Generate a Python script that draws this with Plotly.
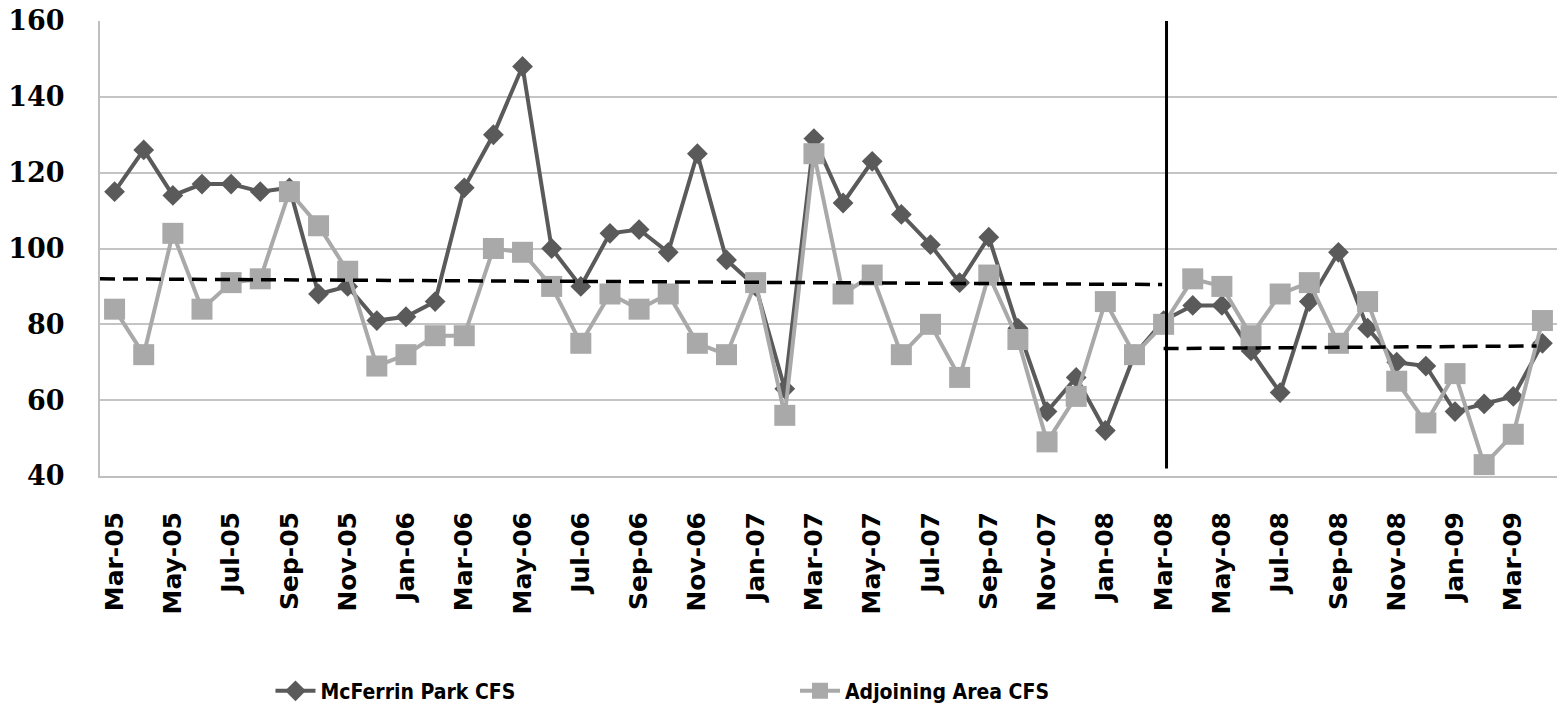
import plotly.graph_objects as go

# Monthly calls for service, Mar-05 .. Apr-09
months = [
    "Mar-05", "Apr-05", "May-05", "Jun-05", "Jul-05", "Aug-05", "Sep-05", "Oct-05", "Nov-05", "Dec-05",
    "Jan-06", "Feb-06", "Mar-06", "Apr-06", "May-06", "Jun-06", "Jul-06", "Aug-06", "Sep-06", "Oct-06",
    "Nov-06", "Dec-06", "Jan-07", "Feb-07", "Mar-07", "Apr-07", "May-07", "Jun-07", "Jul-07", "Aug-07",
    "Sep-07", "Oct-07", "Nov-07", "Dec-07", "Jan-08", "Feb-08", "Mar-08", "Apr-08", "May-08", "Jun-08",
    "Jul-08", "Aug-08", "Sep-08", "Oct-08", "Nov-08", "Dec-08", "Jan-09", "Feb-09", "Mar-09", "Apr-09",
]

mcferrin_cfs = [
    115, 126, 114, 117, 117, 115, 116, 88, 90, 81,
    82, 86, 116, 130, 148, 100, 90, 104, 105, 99,
    125, 97, 90, 63, 129, 112, 123, 109, 101, 91,
    103, 79, 57, 66, 52, 72, 81, 85, 85, 73,
    62, 86, 99, 79, 70, 69, 57, 59, 61, 75,
]

adjoining_cfs = [
    84, 72, 104, 84, 91, 92, 115, 106, 94, 69,
    72, 77, 77, 100, 99, 90, 75, 88, 84, 88,
    75, 72, 91, 56, 125, 88, 93, 72, 80, 66,
    93, 76, 49, 61, 86, 72, 80, 92, 90, 77,
    88, 91, 75, 86, 65, 54, 67, 43, 51, 81,
]

tick_labels = months[::2]

# Reference levels before / after the intervention (start value, end value)
pre_level = [92.0, 90.5]
post_level = [73.6, 74.3]
intervention_month = "Mar-08"

DARK = "#5a5a5a"
LIGHT = "#a9a9a9"

fig = go.Figure()

fig.add_trace(go.Scatter(
    x=months, y=mcferrin_cfs, mode="lines+markers", name="McFerrin Park CFS",
    line=dict(color=DARK, width=4),
    marker=dict(symbol="diamond", size=16, color=DARK),
    legend="legend",
))
fig.add_trace(go.Scatter(
    x=months, y=adjoining_cfs, mode="lines+markers", name="Adjoining Area CFS",
    line=dict(color=LIGHT, width=4),
    marker=dict(symbol="square", size=21, color=LIGHT),
    legend="legend2",
))

cut = months.index(intervention_month)

# Intervention marker
fig.add_shape(type="line", xref="x", yref="y",
              x0=cut + 0.1, x1=cut + 0.1, y0=42, y1=160.3,
              line=dict(color="black", width=3))

# Average levels
fig.add_shape(type="line", xref="x", yref="y",
              x0=-0.5, x1=cut - 0.05, y0=pre_level[0], y1=pre_level[1],
              line=dict(color="black", width=3.5, dash="15px,8px"))
fig.add_shape(type="line", xref="x", yref="y",
              x0=cut, x1=len(months) - 1.2, y0=post_level[0], y1=post_level[1],
              line=dict(color="black", width=3.5, dash="15px,8px"))

legend_font = dict(family="Liberation Sans Narrow, DejaVu Sans Condensed, Liberation Sans",
                   size=21, color="black", weight="bold")

fig.update_layout(
    width=1561, height=716,
    margin=dict(l=100, r=4, t=21, b=236),
    paper_bgcolor="white", plot_bgcolor="white",
    showlegend=True,
    legend=dict(orientation="h", x=0.117, xanchor="left", y=-0.473, yanchor="middle",
                font=legend_font, itemwidth=40, bgcolor="rgba(0,0,0,0)"),
    legend2=dict(orientation="h", x=0.477, xanchor="left", y=-0.473, yanchor="middle",
                 font=legend_font, itemwidth=40, bgcolor="rgba(0,0,0,0)"),
    xaxis=dict(
        type="category", range=[-0.5, len(months) - 0.5],
        tickmode="array", tickvals=tick_labels, ticktext=tick_labels,
        tickangle=-90, ticks="", ticklabelstandoff=24,
        tickfont=dict(family="DejaVu Sans", size=25, color="black", weight="bold"),
        showgrid=False, showline=True, linecolor="#bfbfbf", linewidth=2,
        zeroline=False,
    ),
    yaxis=dict(
        range=[40, 160], tickmode="array", tickvals=[40, 60, 80, 100, 120, 140, 160],
        ticks="", ticklabelstandoff=28,
        tickfont=dict(family="DejaVu Serif", size=27, color="black", weight="bold"),
        showgrid=True, gridcolor="#c4c4c4", gridwidth=2,
        showline=True, linecolor="#bfbfbf", linewidth=2, zeroline=False,
    ),
)

fig.write_html("out.html")
